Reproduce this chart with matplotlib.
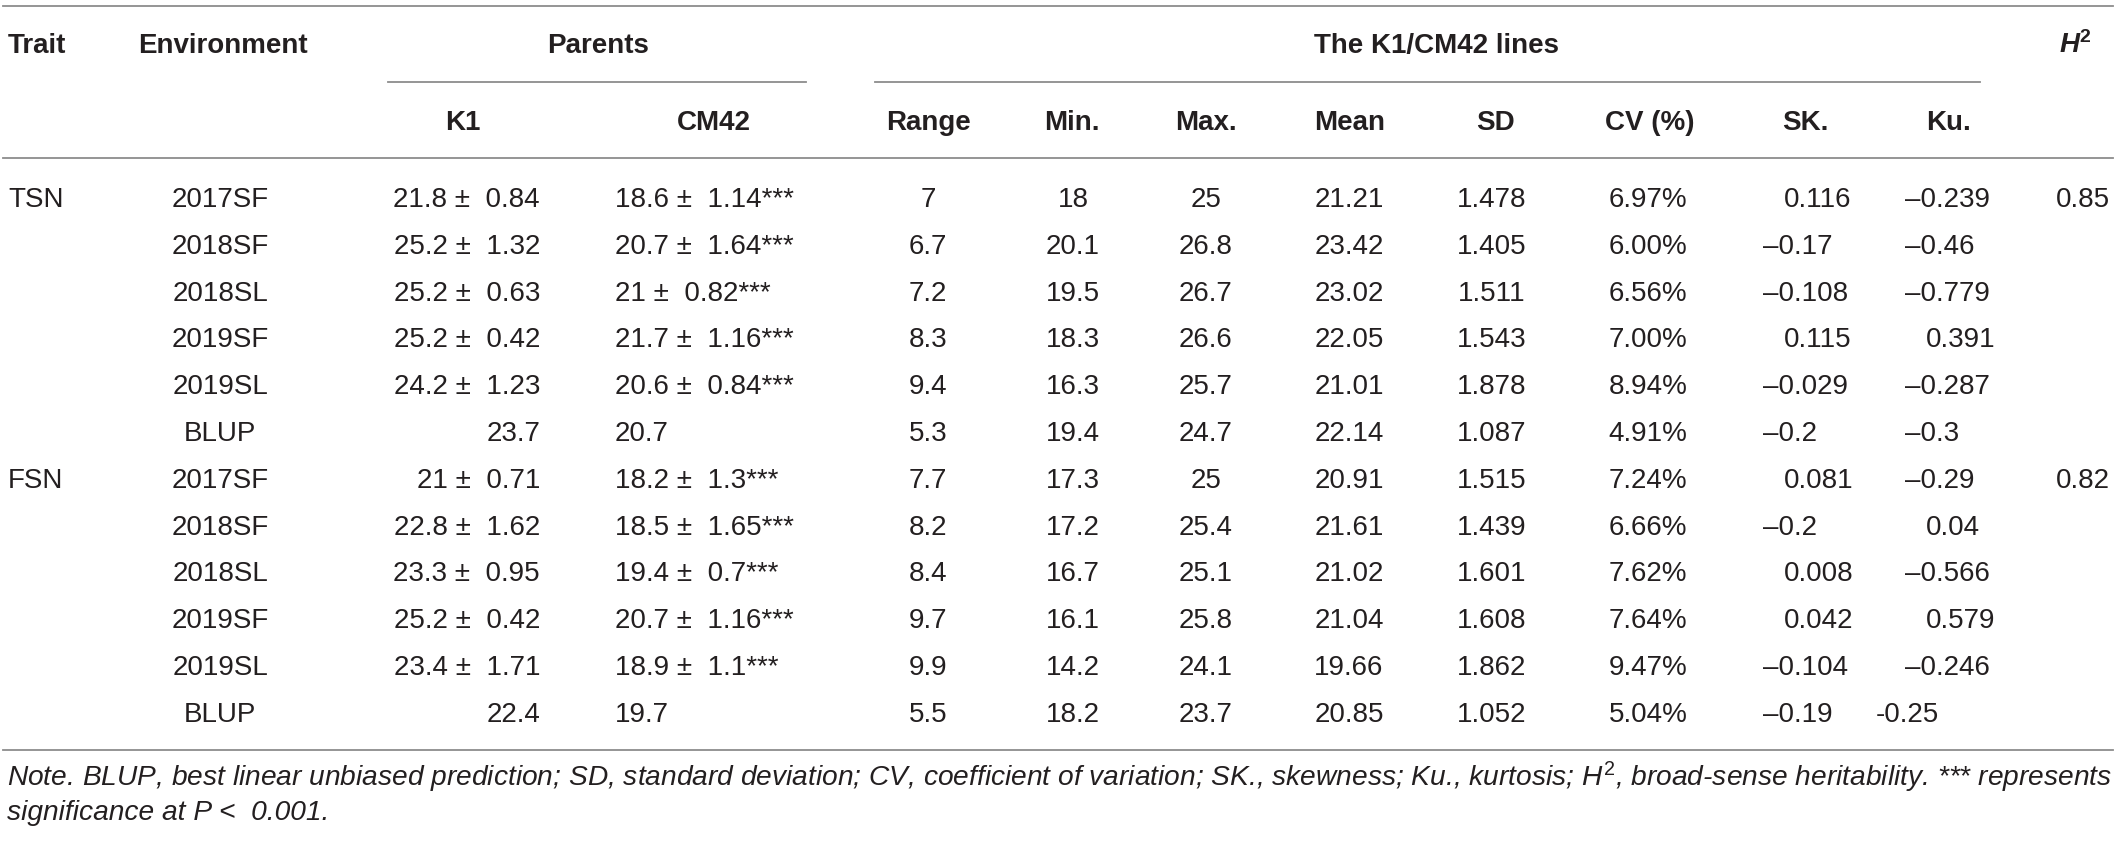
import matplotlib
matplotlib.use('Agg')
import matplotlib.pyplot as plt

matplotlib.rcParams['font.family'] = ['Liberation Sans', 'DejaVu Sans']
matplotlib.rcParams['mathtext.fontset'] = 'custom'
matplotlib.rcParams['mathtext.rm'] = 'Liberation Sans'
matplotlib.rcParams['mathtext.it'] = 'Liberation Sans:italic'
matplotlib.rcParams['mathtext.bf'] = 'Liberation Sans:bold'
matplotlib.rcParams['mathtext.bfit'] = 'Liberation Sans:bold:italic'

# 표 데이터 ---------------------------------------------------------------
traits = ['TSN', 'FSN']
h2 = [0.85, 0.82]
envs = ['2017SF', '2018SF', '2018SL', '2019SF', '2019SL', 'BLUP'] * 2

k1_mean = [21.8, 25.2, 25.2, 25.2, 24.2, 23.7, 21, 22.8, 23.3, 25.2, 23.4, 22.4]
k1_sd = [0.84, 1.32, 0.63, 0.42, 1.23, None, 0.71, 1.62, 0.95, 0.42, 1.71, None]
cm42_mean = [18.6, 20.7, 21, 21.7, 20.6, 20.7, 18.2, 18.5, 19.4, 20.7, 18.9, 19.7]
cm42_sd = [1.14, 1.64, 0.82, 1.16, 0.84, None, 1.3, 1.65, 0.7, 1.16, 1.1, None]

rng = [7, 6.7, 7.2, 8.3, 9.4, 5.3, 7.7, 8.2, 8.4, 9.7, 9.9, 5.5]
mins = [18, 20.1, 19.5, 18.3, 16.3, 19.4, 17.3, 17.2, 16.7, 16.1, 14.2, 18.2]
maxs = [25, 26.8, 26.7, 26.6, 25.7, 24.7, 25, 25.4, 25.1, 25.8, 24.1, 23.7]
means = [21.21, 23.42, 23.02, 22.05, 21.01, 22.14, 20.91, 21.61, 21.02, 21.04, 19.66, 20.85]
sds = [1.478, 1.405, 1.511, 1.543, 1.878, 1.087, 1.515, 1.439, 1.601, 1.608, 1.862, 1.052]
cvs = [6.97, 6.00, 6.56, 7.00, 8.94, 4.91, 7.24, 6.66, 7.62, 7.64, 9.47, 5.04]
sk = [0.116, -0.17, -0.108, 0.115, -0.029, -0.2, 0.081, -0.2, 0.008, 0.042, -0.104, -0.19]
ku = [-0.239, -0.46, -0.779, 0.391, -0.287, -0.3, -0.29, 0.04, -0.566, 0.579, -0.246, -0.25]
ku_hyphen_rows = [11]   # 원본에서 마지막 값만 '-' 로 표기

note1 = ('Note. BLUP, best linear unbiased prediction; SD, standard deviation; '
         'CV, coefficient of variation; SK., skewness; Ku., kurtosis; $H^2$, '
         'broad-sense heritability. *** represents')
note2 = 'significance at P <  0.001.'

# 레이아웃 (픽셀 단위) ----------------------------------------------------
W, H = 2118, 842
fs = 20
ink = '#231f20'
rule = '#8c8c8c'
row0 = 207        # 첫 행 baseline
row_h = 46.8
dash_w = 21       # '–' 폭 만큼 양수 들여쓰기

fig = plt.figure(figsize=(W / 100, H / 100), dpi=100)
ax = fig.add_axes([0, 0, 1, 1])
ax.set_xlim(0, W)
ax.set_ylim(H, 0)
ax.axis('off')


def put(x, y, s, ha='center', **kw):
    return ax.text(x, y, s, ha=ha, va='baseline', fontsize=fs, color=ink, **kw)


def signed(v, dash='–'):
    return dash + f'{-v:g}' if v < 0 else f'{v:g}'


def pm(m, s, star=False):
    if s is None:
        return f'{m:g}'
    txt = f'{m:g} ±  {s:g}'
    return txt + '***' if star else txt


# 가로 선
ax.plot([3, 2113], [6, 6], color=rule, lw=1.3)
ax.plot([388, 806], [82, 82], color=rule, lw=1.3)
ax.plot([875, 1980], [82, 82], color=rule, lw=1.3)
ax.plot([3, 2113], [158, 158], color=rule, lw=1.3)
ax.plot([3, 2113], [750, 750], color=rule, lw=1.3)

# 헤더
put(8, 53, 'Trait', ha='left', fontweight='bold')
put(138, 53, 'Environment', ha='left', fontweight='bold')
put(598, 53, 'Parents', fontweight='bold')
put(1436, 53, 'The K1/CM42 lines', fontweight='bold')
put(2091, 53, r'$\mathbfit{H}^{\mathbf{2}}$', ha='right')

heads = ['K1', 'CM42', 'Range', 'Min.', 'Max.', 'Mean', 'SD', 'CV (%)', 'SK.', 'Ku.']
head_x = [463, 714, 929, 1072, 1206, 1350, 1495, 1650, 1805, 1948]
for hx, h in zip(head_x, heads):
    put(hx, 130, h, fontweight='bold')

# 본문
for i in range(len(envs)):
    y = row0 + i * row_h
    if i % 6 == 0:
        put(8, y, traits[i // 6], ha='left')
        put(2110, y, f'{h2[i // 6]:.2f}', ha='right')
    put(220, y, envs[i])
    put(540, y, pm(k1_mean[i], k1_sd[i]), ha='right')
    put(615, y, pm(cm42_mean[i], cm42_sd[i], star=True), ha='left')
    put(928, y, f'{rng[i]:g}')
    put(1073, y, f'{mins[i]:g}')
    put(1206, y, f'{maxs[i]:g}')
    put(1349, y, f'{means[i]:.2f}')
    put(1492, y, f'{sds[i]:.3f}')
    put(1648, y, f'{cvs[i]:.2f}%')
    put(1763 + (dash_w if sk[i] >= 0 else 0), y, signed(sk[i]), ha='left')
    if i in ku_hyphen_rows:
        put(1876, y, signed(ku[i], '-'), ha='left')
    else:
        put(1905 + (dash_w if ku[i] >= 0 else 0), y, signed(ku[i]), ha='left')

# 주석 (폭에 맞춰 글자 크기 조절)
t1 = put(7, 786, note1, ha='left', style='italic')
t2 = put(7, 820, note2, ha='left', style='italic')
fig.canvas.draw()
w = t1.get_window_extent().width
nfs = fs * 2105 / w
t1.set_fontsize(nfs)
t2.set_fontsize(nfs)

plt.savefig('out.png', dpi=100)
